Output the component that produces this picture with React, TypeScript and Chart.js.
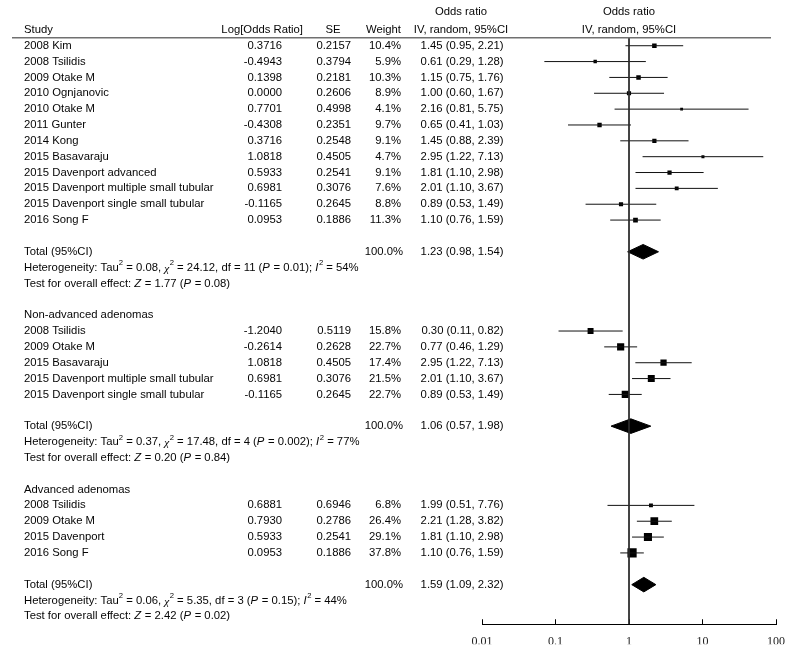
import { useEffect, useRef } from 'react';
import { Chart, registerables } from 'chart.js';

Chart.register(...registerables);

// ---------- Data ----------
// Section 1: all studies
const studies1 = [
  '2008 Kim', '2008 Tsilidis', '2009 Otake M', '2010 Ognjanovic', '2010 Otake M', '2011 Gunter',
  '2014 Kong', '2015 Basavaraju', '2015 Davenport advanced', '2015 Davenport multiple small tubular',
  '2015 Davenport single small tubular', '2016 Song F',
];
const logOR1 = [0.3716, -0.4943, 0.1398, 0.0, 0.7701, -0.4308, 0.3716, 1.0818, 0.5933, 0.6981, -0.1165, 0.0953];
const se1 = [0.2157, 0.3794, 0.2181, 0.2606, 0.4998, 0.2351, 0.2548, 0.4505, 0.2541, 0.3076, 0.2645, 0.1886];
const weight1 = [10.4, 5.9, 10.3, 8.9, 4.1, 9.7, 9.1, 4.7, 9.1, 7.6, 8.8, 11.3];
const or1 = [1.45, 0.61, 1.15, 1.0, 2.16, 0.65, 1.45, 2.95, 1.81, 2.01, 0.89, 1.1];
const lo1 = [0.95, 0.29, 0.75, 0.6, 0.81, 0.41, 0.88, 1.22, 1.1, 1.1, 0.53, 0.76];
const hi1 = [2.21, 1.28, 1.76, 1.67, 5.75, 1.03, 2.39, 7.13, 2.98, 3.67, 1.49, 1.59];
const total1 = [1.23, 0.98, 1.54];

// Section 2: non-advanced adenomas
const title2 = 'Non-advanced adenomas';
const studies2 = ['2008 Tsilidis', '2009 Otake M', '2015 Basavaraju', '2015 Davenport multiple small tubular', '2015 Davenport single small tubular'];
const logOR2 = [-1.204, -0.2614, 1.0818, 0.6981, -0.1165];
const se2 = [0.5119, 0.2628, 0.4505, 0.3076, 0.2645];
const weight2 = [15.8, 22.7, 17.4, 21.5, 22.7];
const or2 = [0.3, 0.77, 2.95, 2.01, 0.89];
const lo2 = [0.11, 0.46, 1.22, 1.1, 0.53];
const hi2 = [0.82, 1.29, 7.13, 3.67, 1.49];
const total2 = [1.06, 0.57, 1.98];

// Section 3: advanced adenomas
const title3 = 'Advanced adenomas';
const studies3 = ['2008 Tsilidis', '2009 Otake M', '2015 Davenport', '2016 Song F'];
const logOR3 = [0.6881, 0.793, 0.5933, 0.0953];
const se3 = [0.6946, 0.2786, 0.2541, 0.1886];
const weight3 = [6.8, 26.4, 29.1, 37.8];
const or3 = [1.99, 2.21, 1.81, 1.1];
const lo3 = [0.51, 1.28, 1.1, 0.76];
const hi3 = [7.76, 3.82, 2.98, 1.59];
const total3 = [1.59, 1.09, 2.32];

// Heterogeneity / overall-effect statistics per section
const tau2 = ['0.08', '0.37', '0.06'];
const chi2 = ['24.12', '17.48', '5.35'];
const dfs = ['11', '4', '3'];
const hetP = ['0.01', '0.002', '0.15'];
const i2 = ['54', '77', '44'];
const zVal = ['1.77', '0.20', '2.42'];
const zP = ['0.08', '0.84', '0.02'];

// Axis ticks
const tickValues = [0.01, 0.1, 1, 10, 100];
const tickLabels = ['0.01', '0.1', '1', '10', '100'];
// The first block of the reference figure is drawn on a wider-scaled axis
const section1AxisMin = 0.1165;
const section1AxisMax = 8.59;

// ---------- Layout constants ----------
const FONT = '"Liberation Sans", Arial, sans-serif';
const FS = 11.3;
const TEXT = '#050505';

type Seg = [string, string];

function hetSegs(k: number): Seg[] {
  return [
    ['Heterogeneity: Tau', ''], ['2', 's'], [' = ' + tau2[k] + ', ', ''], ['χ', 'i'], ['2', 's'],
    [' = ' + chi2[k] + ', df = ' + dfs[k] + ' (', ''], ['P', 'i'], [' = ' + hetP[k] + '); ', ''],
    ['I', 'i'], ['2', 's'], [' = ' + i2[k] + '%', ''],
  ];
}
function testSegs(k: number): Seg[] {
  return [
    ['Test for overall effect: ', ''], ['Z', 'i'], [' = ' + zVal[k] + ' (', ''], ['P', 'i'], [' = ' + zP[k] + ')', ''],
  ];
}

function buildLayout() {
  const raw = [
    { title: null as string | null, studies: studies1, logOR: logOR1, se: se1, weight: weight1, or: or1, lo: lo1, hi: hi1, total: total1, axis: 'xs1', markerScale: 1.4 },
    { title: title2, studies: studies2, logOR: logOR2, se: se2, weight: weight2, or: or2, lo: lo2, hi: hi2, total: total2, axis: 'x', markerScale: 1.5 },
    { title: title3, studies: studies3, logOR: logOR3, se: se3, weight: weight3, or: or3, lo: lo3, hi: hi3, total: total3, axis: 'x', markerScale: 1.5 },
  ];
  let row = 0;
  const sections = raw.map((s, k) => {
    let titleRow = -1;
    if (s.title) { titleRow = row; row += 1; }
    const studyRows = s.studies.map((_, i) => row + i);
    row += s.studies.length + 1;
    const totalRow = row;
    const hetRow = row + 1;
    const testRow = row + 2;
    row += 4;
    return { ...s, k, titleRow, studyRows, totalRow, hetRow, testRow };
  });
  return { sections, lastRow: row - 2 };
}

function drawRich(ctx: CanvasRenderingContext2D, segs: Seg[], x: number, y: number) {
  let cx = x;
  ctx.textAlign = 'left';
  for (const [t, st] of segs) {
    const italic = st.includes('i');
    const sup = st.includes('s');
    const fs = sup ? FS * 0.68 : FS;
    const fam = t === 'χ' ? '"Liberation Serif", serif' : FONT;
    ctx.font = `${italic ? 'italic ' : ''}${fs}px ${fam}`;
    ctx.fillText(t, cx, sup ? y - FS * 0.38 : t === 'χ' ? y + 1.5 : y);
    cx += ctx.measureText(t).width + (italic ? 0.5 : 0);
  }
}

export default function App() {
  const ref = useRef<HTMLCanvasElement>(null);

  useEffect(() => {
    const canvas = ref.current;
    if (!canvas) return;
    const layout = buildLayout();
    const datasets: any[] = [];

    // line of no effect
    datasets.push({
      data: [{ x: 1, y: -0.5 }, { x: 1, y: layout.lastRow + 0.5 }],
      showLine: true, borderColor: '#2a2a2a', borderWidth: 1, pointRadius: 0, xAxisID: 'x',
    });

    for (const s of layout.sections) {
      s.studyRows.forEach((r, i) => {
        datasets.push({
          data: [{ x: s.lo[i], y: r }, { x: s.hi[i], y: r }],
          showLine: true, borderColor: '#111', borderWidth: 1, pointRadius: 0, xAxisID: s.axis,
        });
      });
      datasets.push({
        data: s.or.map((v, i) => ({ x: v, y: s.studyRows[i], w: s.weight[i] })),
        showLine: false, pointStyle: 'rect', backgroundColor: '#000', borderColor: '#000', borderWidth: 0,
        pointRadius: (c: any) => (s.markerScale * Math.sqrt(c.raw ? c.raw.w : 1)) / Math.SQRT2,
        xAxisID: s.axis,
      });
      const [est, lo, hi] = s.total;
      const r = s.totalRow;
      const h = 0.46;
      datasets.push({
        data: [{ x: lo, y: r }, { x: est, y: r - h }, { x: hi, y: r }, { x: est, y: r + h }, { x: lo, y: r }],
        showLine: true, fill: 'shape', backgroundColor: '#000', borderColor: '#000', borderWidth: 1,
        pointRadius: 0, tension: 0, xAxisID: s.axis,
      });
    }

    const textPlugin = {
      id: 'forestText',
      afterDraw(chart: any) {
        const ctx: CanvasRenderingContext2D = chart.ctx;
        const ys = chart.scales.y;
        const Y = (r: number) => ys.getPixelForValue(r);
        ctx.save();
        // header rule
        ctx.strokeStyle = '#707070';
        ctx.lineWidth = 1.5;
        ctx.beginPath();
        ctx.moveTo(12, chart.chartArea.top);
        ctx.lineTo(771, chart.chartArea.top);
        ctx.stroke();

        ctx.fillStyle = TEXT;
        ctx.textBaseline = 'middle';
        ctx.font = `${FS}px ${FONT}`;
        const put = (t: string, x: number, r: number, align: CanvasTextAlign) => {
          ctx.textAlign = align;
          ctx.fillText(t, x, Y(r));
        };
        // headers
        put('Study', 24, -1, 'left');
        put('Log[Odds Ratio]', 303, -1, 'right');
        put('SE', 333, -1, 'center');
        put('Weight', 401, -1, 'right');
        put('Odds ratio', 461, -2.12, 'center');
        put('IV, random, 95%CI', 461, -1, 'center');
        put('Odds ratio', 629, -2.12, 'center');
        put('IV, random, 95%CI', 629, -1, 'center');

        for (const s of layout.sections) {
          ctx.font = `${FS}px ${FONT}`;
          if (s.title) put(s.title, 24, s.titleRow, 'left');
          s.studyRows.forEach((r, i) => {
            put(s.studies[i], 24, r, 'left');
            put(s.logOR[i].toFixed(4), 282, r, 'right');
            put(s.se[i].toFixed(4), 351, r, 'right');
            put(s.weight[i].toFixed(1) + '%', 401, r, 'right');
            put(`${s.or[i].toFixed(2)} (${s.lo[i].toFixed(2)}, ${s.hi[i].toFixed(2)})`, 503.5, r, 'right');
          });
          put('Total (95%CI)', 24, s.totalRow, 'left');
          put('100.0%', 403, s.totalRow, 'right');
          put(`${s.total[0].toFixed(2)} (${s.total[1].toFixed(2)}, ${s.total[2].toFixed(2)})`, 503.5, s.totalRow, 'right');
          drawRich(ctx, hetSegs(s.k), 24, Y(s.hetRow));
          drawRich(ctx, testSegs(s.k), 24, Y(s.testRow));
        }
        ctx.restore();
      },
    };

    const chart = new Chart(canvas, {
      type: 'scatter',
      data: { datasets },
      plugins: [textPlugin],
      options: {
        animation: false,
        responsive: false,
        maintainAspectRatio: false,
        layout: { padding: { left: 482, right: 23, top: 37.8, bottom: 11.75 } },
        plugins: { legend: { display: false }, tooltip: { enabled: false } },
        events: [],
        scales: {
          x: {
            type: 'logarithmic',
            position: 'bottom',
            min: 0.01,
            max: 100,
            afterBuildTicks: (sc: any) => { sc.ticks = tickValues.map((v) => ({ value: v })); },
            afterFit: (sc: any) => { sc.height = 20; },
            ticks: {
              autoSkip: false,
              maxRotation: 0,
              padding: 15,
              color: '#222',
              font: { family: '"Liberation Serif", serif', size: 12 },
              callback: (v: any) => {
                const idx = tickValues.indexOf(Number(v));
                return idx >= 0 ? tickLabels[idx] : '';
              },
            },
            grid: { drawOnChartArea: false, tickLength: -5, color: '#000', tickColor: '#000' },
            border: { display: true, color: '#000', width: 1 },
          },
          xs1: {
            type: 'logarithmic',
            position: 'bottom',
            display: false,
            min: section1AxisMin,
            max: section1AxisMax,
          },
          y: {
            type: 'linear',
            display: false,
            reverse: true,
            min: -0.5,
            max: layout.lastRow + 0.5,
          },
        },
      } as any,
    });
    return () => chart.destroy();
  }, []);

  return (
    <div style={{ position: 'fixed', left: 0, top: 0, width: 800, height: 656, background: '#fff' }}>
      <canvas ref={ref} width={800} height={656} style={{ display: 'block', width: 800, height: 656 }} />
    </div>
  );
}
